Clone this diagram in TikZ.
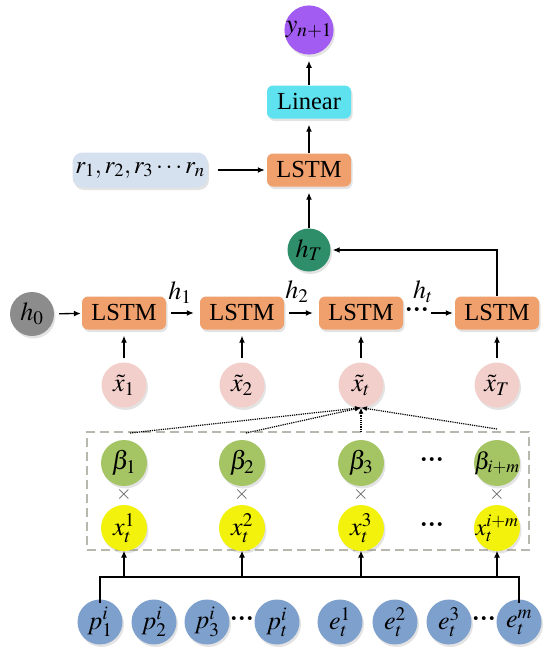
\documentclass[tikz,border=0pt]{standalone}
\usepackage{mathptmx}
\usepackage{fontspec}
\setmainfont{Liberation Serif}
\usetikzlibrary{arrows.meta,shadows}
\definecolor{purpleC}{HTML}{A35CF2}
\definecolor{cyanC}{HTML}{5EE2EF}
\definecolor{lstmC}{HTML}{EFA06D}
\definecolor{rboxC}{HTML}{D5E1EE}
\definecolor{htC}{HTML}{2E8E6A}
\definecolor{hzeroC}{HTML}{8C8C8C}
\definecolor{xtC}{HTML}{F3CFCB}
\definecolor{betaC}{HTML}{A5C464}
\definecolor{xC}{HTML}{F2F20C}
\definecolor{pC}{HTML}{7EA0CC}
\definecolor{frameC}{HTML}{B8B8AE}
\begin{document}
\begin{tikzpicture}[x=1pt,y=-1pt,
  every node/.style={font=\fontsize{26}{28}\selectfont},
  shd/.style={drop shadow={opacity=0.22,shadow xshift=1.5pt,shadow yshift=-2.5pt}},
  circ/.style={circle, minimum size=44pt, inner sep=0pt, shd},
  box/.style={rectangle, rounded corners=6pt, minimum width=84pt, minimum height=33pt, inner sep=0pt, shd, font=\fontsize{24.5}{26}\selectfont},
  arr/.style={-{Latex[length=7pt,width=6pt]}, line width=1.3pt},
  darr/.style={-{Latex[length=6pt,width=5pt]}, line width=1.2pt, densely dotted},
  mult/.style={text=black!65, font=\fontsize{20}{22}\selectfont},
  dotsn/.style={inner sep=0pt, font=\fontsize{24}{26}\selectfont\bfseries}
]
\useasboundingbox (0,0) rectangle (550,656);

% top part
\node[circ,fill=purpleC] (y) at (309,30) {$y_{n+1}$};
\node[box,fill=cyanC] (lin) at (309,102) {Linear};
\node[box,fill=lstmC] (lstm0) at (309,170) {LSTM};
\node[box,fill=rboxC, minimum width=135pt, minimum height=35pt, rounded corners=10pt, font=\fontsize{25}{27}\selectfont] (r) at (140,170) {$r_1,r_2,r_3\cdots r_n$};
\node[circ,fill=htC, minimum size=43pt] (hT) at (309,250) {$h_T$};

\draw[arr, shorten >=6pt] (lin) -- (y);
\draw[arr, shorten >=6pt] (lstm0) -- (lin);
\draw[arr, shorten <=10pt, shorten >=2pt] (r) -- (lstm0);
\draw[arr, shorten >=6pt] (hT) -- (lstm0);

% LSTM chain
\node[circ,fill=hzeroC] (h0) at (32,314) {$h_0$};
\node[box,fill=lstmC] (l1) at (124,313) {LSTM};
\node[box,fill=lstmC] (l2) at (242,313) {LSTM};
\node[box,fill=lstmC] (l3) at (361,313) {LSTM};
\node[box,fill=lstmC] (l4) at (497,313) {LSTM};
\node[dotsn] (cd) at (417,313) {···};
\node (lh1) at (180,293) {$h_1$};
\node (lh2) at (297,292) {$h_2$};
\node (lht) at (423,292) {$h_t$};

\draw[arr, shorten <=5pt, shorten >=1pt] (h0) -- (l1);
\draw[arr, shorten <=5pt, shorten >=6pt] (l1) -- (l2);
\draw[arr, shorten <=5pt, shorten >=6pt] (l2) -- (l3);
\draw[arr, shorten <=2pt, shorten >=2pt] (cd) -- (l4);
\draw[arr, shorten >=2pt] (l4.north) |- (hT.east);

% x tilde row
\node[circ,fill=xtC, minimum size=45pt] (xt1) at (124,385) {$\tilde{x}_1$};
\node[circ,fill=xtC, minimum size=45pt] (xt2) at (242,385) {$\tilde{x}_2$};
\node[circ,fill=xtC, minimum size=45pt] (xtt) at (361,385) {$\tilde{x}_t$};
\node[circ,fill=xtC, minimum size=45pt] (xtT) at (497,385) {$\tilde{x}_T$};
\draw[arr, shorten <=4pt, shorten >=6pt] (xt1) -- (l1);
\draw[arr, shorten <=4pt, shorten >=6pt] (xt2) -- (l2);
\draw[arr, shorten <=4pt, shorten >=6pt] (xtt) -- (l3);
\draw[arr, shorten <=4pt, shorten >=6pt] (xtT) -- (l4);

% attention frame
\node[draw=frameC, dash pattern=on 9pt off 5pt, line width=1.3pt, minimum width=442pt, minimum height=118pt, inner sep=0pt] (frame) at (308,491) {};
\node[circ,fill=betaC, minimum size=46pt] (b1) at (124,463) {$\beta_1$};
\node[circ,fill=betaC, minimum size=46pt] (b2) at (242,463) {$\beta_2$};
\node[circ,fill=betaC, minimum size=46pt] (b3) at (361,463) {$\beta_3$};
\node[circ,fill=betaC, minimum size=46pt, font=\fontsize{24}{26}\selectfont] (b4) at (497,463) {\makebox[30pt]{$\beta_{i+m}$}};
\node[dotsn] (bd) at (432,463) {···};
\node[mult] (m1) at (124,494) {$\times$};
\node[mult] (m2) at (242,494) {$\times$};
\node[mult] (m3) at (361,494) {$\times$};
\node[mult] (m4) at (497,494) {$\times$};
\node[circ,fill=xC, minimum size=46pt] (x1) at (124,528) {$x_t^1$};
\node[circ,fill=xC, minimum size=46pt] (x2) at (242,528) {$x_t^2$};
\node[circ,fill=xC, minimum size=46pt] (x3) at (361,528) {$x_t^3$};
\node[circ,fill=xC, minimum size=46pt, font=\fontsize{24}{26}\selectfont] (x4) at (497,528) {\makebox[30pt]{$x_t^{i+m}$}};
\node[dotsn] (xd) at (432,528) {···};

\coordinate (d1) at (130,433);
\coordinate (d2) at (246,433);
\coordinate (d3) at (361,432);
\coordinate (d4) at (497,429);
\draw[darr] (d1) -- (xtt.south);
\draw[darr] (d2) -- (xtt.south);
\draw[darr] (d3) -- (xtt.south);
\draw[darr] (d4) -- (xtt.south);

% bottom inputs
\node[circ,fill=pC, minimum size=45pt] (p1) at (100,622) {$p_1^i$};
\node[circ,fill=pC, minimum size=45pt] (p2) at (154,622) {$p_2^i$};
\node[circ,fill=pC, minimum size=45pt] (p3) at (207,622) {$p_3^i$};
\node[dotsn] (pd) at (242,622) {···};
\node[circ,fill=pC, minimum size=45pt] (pt) at (277,622) {$p_t^i$};
\node[circ,fill=pC, minimum size=45pt] (e1) at (340,622) {$e_t^1$};
\node[circ,fill=pC, minimum size=45pt] (e2) at (395,622) {$e_t^2$};
\node[circ,fill=pC, minimum size=45pt] (e3) at (449,622) {$e_t^3$};
\node[dotsn] (ed) at (484,622) {···};
\node[circ,fill=pC, minimum size=45pt] (em) at (519,622) {$e_t^m$};

\coordinate (bus) at (0,577);
\draw[line width=1.3pt] ([yshift=-4pt]p1.north) -- (p1.north |- bus) -- (em.north |- bus) -- ([yshift=-4pt]em.north);
\draw[arr] (x1 |- bus) -- (x1 |- frame.south);
\draw[arr] (x2 |- bus) -- (x2 |- frame.south);
\draw[arr] (x3 |- bus) -- (x3 |- frame.south);
\draw[arr] (x4 |- bus) -- (x4 |- frame.south);
\end{tikzpicture}
\end{document}
